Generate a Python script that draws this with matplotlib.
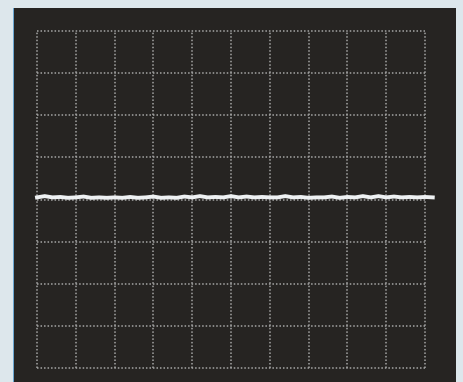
import numpy as np
import matplotlib
matplotlib.use("Agg")
import matplotlib.pyplot as plt
from matplotlib.patches import Rectangle

# Trace samples (divisions)
time_div = np.arange(52) * 0.2
trace_y = [0.05, 0.08, 0.05, 0.06, 0.04, 0.05, 0.07, 0.04, 0.05, 0.04,
           0.05, 0.04, 0.06, 0.04, 0.05, 0.07, 0.04, 0.05, 0.04, 0.07,
           0.05, 0.08, 0.05, 0.06, 0.05, 0.08, 0.05, 0.07, 0.05, 0.06,
           0.05, 0.05, 0.08, 0.05, 0.06, 0.04, 0.05, 0.05, 0.07, 0.04,
           0.06, 0.05, 0.08, 0.05, 0.08, 0.05, 0.07, 0.05, 0.06, 0.05,
           0.06, 0.05]
x_divs = list(range(0, 11))
y_divs = list(range(-4, 5))

W, H = 463, 382
fig = plt.figure(figsize=(W / 100, H / 100), dpi=100, facecolor="#dde7ec")

# screen background (separate axes behind the graticule)
bg = fig.add_axes([0, 0, 1, 1], zorder=-1)
bg.set_xlim(0, W)
bg.set_ylim(H, 0)
bg.axis("off")
bg.add_patch(Rectangle((14, 8), 456 - 14, H - 8, facecolor="#262422",
                       edgecolor="none"))
bg.add_patch(Rectangle((12.5, 8), 1.5, H - 8, facecolor="#6aa6d0",
                       edgecolor="none"))

ax = fig.add_axes([37 / W, (H - 368) / H, 388 / W, 337 / H], zorder=1)
ax.set_facecolor("none")
ax.set_xlim(0, 10)
ax.set_ylim(-4, 4)
for s in ax.spines.values():
    s.set_visible(False)
ax.set_xticks([])
ax.set_yticks([])

for xv in x_divs:
    ax.plot([xv, xv], [-4, 4], color="#a4a4a4", lw=1.1,
            linestyle=(0, (1, 1.3)), clip_on=False)
for yv in y_divs:
    ax.plot([0, 10], [yv, yv], color="#a4a4a4", lw=1.1,
            linestyle=(0, (1, 1.3)), clip_on=False)

ax.plot(time_div, trace_y, color="#eef1f3", lw=2.8, clip_on=False,
        solid_joinstyle="miter")

fig.savefig("out.png", dpi=100, facecolor=fig.get_facecolor())
